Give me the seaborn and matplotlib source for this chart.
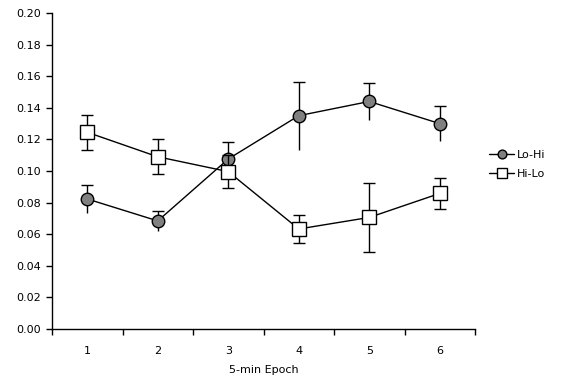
import numpy as np
import pandas as pd
import matplotlib
matplotlib.use("Agg")
import matplotlib.pyplot as plt
import seaborn as sns

epochs = [1, 2, 3, 4, 5, 6]
lo_hi = [0.0823, 0.0684, 0.1076, 0.1350, 0.1440, 0.1300]
lo_hi_err = [0.0088, 0.0065, 0.0110, 0.0215, 0.0120, 0.0112]
hi_lo = [0.1245, 0.1090, 0.0996, 0.0633, 0.0706, 0.0858]
hi_lo_err = [0.0110, 0.0110, 0.0106, 0.0090, 0.0216, 0.0100]

sns.set_style("white", {"text.color": "black", "xtick.color": "black",
                        "ytick.color": "black", "axes.labelcolor": "black"})
plt.rcParams['font.family'] = ['DejaVu Sans']

fig = plt.figure(figsize=(5.64, 3.81), dpi=100)
ax = fig.add_axes([0.0922, 0.1365, 0.7500, 0.8294])

df_a = pd.DataFrame({"epoch": epochs, "value": lo_hi})
df_b = pd.DataFrame({"epoch": epochs, "value": hi_lo})

# Lo-Hi: symmetric SE, cap drawn only on top
ax.errorbar(epochs, lo_hi, yerr=[lo_hi_err, np.zeros(6)], fmt="none",
            ecolor="black", elinewidth=1, capsize=0, zorder=2)
ax.errorbar(epochs, lo_hi, yerr=[np.zeros(6), lo_hi_err], fmt="none",
            ecolor="black", elinewidth=1, capsize=4, capthick=1, zorder=2)
sns.lineplot(data=df_a, x="epoch", y="value", ax=ax, color="black", lw=1,
             marker="o", markersize=9, markerfacecolor="#808080",
             markeredgecolor="black", markeredgewidth=1, label="Lo-Hi", zorder=3)

ax.errorbar(epochs, hi_lo, yerr=hi_lo_err, fmt="none", ecolor="black",
            elinewidth=1, capsize=4, capthick=1, zorder=4)
sns.lineplot(data=df_b, x="epoch", y="value", ax=ax, color="black", lw=1,
             marker="s", markersize=10, markerfacecolor="white",
             markeredgecolor="black", markeredgewidth=1, label="Hi-Lo", zorder=5)

ax.set_xlim(0.5, 6.5)
ax.set_ylim(0, 0.2)
yt = np.arange(0, 0.201, 0.02)
ax.set_yticks(yt)
ax.set_yticklabels([f"{v:.2f}" for v in yt])
# ticks between categories, labels centred on categories
ax.set_xticks(np.arange(0.5, 6.6, 1.0))
ax.set_xticklabels([])
ax.set_xticks(epochs, minor=True)
ax.set_xticklabels([str(e) for e in epochs], minor=True)
ax.tick_params(axis="x", which="major", direction="out", length=4, width=1,
               color="black", bottom=True)
ax.tick_params(axis="x", which="minor", length=0, pad=12, labelsize=8, bottom=True)
ax.tick_params(axis="y", direction="out", length=4, width=1, color="black",
               labelsize=8, pad=4, left=True)

sns.despine(ax=ax)
for s in ["left", "bottom"]:
    ax.spines[s].set_color("black")
    ax.spines[s].set_linewidth(1)

ax.set_xlabel("5-min Epoch", fontsize=8, labelpad=7)
ax.set_ylabel("")

ax.legend(loc="center left", bbox_to_anchor=(0.85, 0.568), bbox_transform=fig.transFigure,
          frameon=False, fontsize=8, handlelength=2.2, handletextpad=0.3,
          labelspacing=0.85, markerscale=0.7)

fig.savefig("out.png", dpi=100)
plt.close(fig)
